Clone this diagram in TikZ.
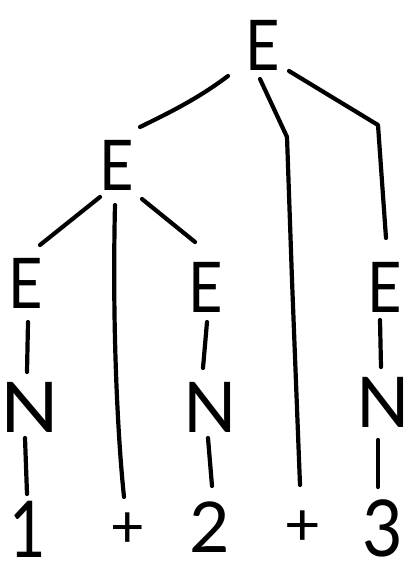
\documentclass[tikz,border=0pt]{standalone}
\usepackage{fontspec}
\newfontfamily\hand{Lato}
\usetikzlibrary{calc}
\tikzset{
  lbl/.style={font=\hand\fontsize{70}{70}\selectfont, inner sep=0pt, outer sep=0pt},
  edge/.style={line width=4.2pt, line cap=round, line join=round, black}
}
\newcommand{\sx}[2]{\scalebox{#1}[1]{#2}}
\begin{document}
\begin{tikzpicture}[x=1pt,y=-1pt]
\useasboundingbox[fill=white] (0,0) rectangle (408,562);
% nodes
\node[lbl] (topE) at (263,45) {\sx{0.85}{E}};
\node[lbl] (midE) at (117,165) {\sx{0.85}{E}};
\node[lbl] (leftE) at (26,283) {\sx{0.85}{E}};
\node[lbl] (cenE) at (206,287) {\sx{0.85}{E}};
\node[lbl] (rightE) at (385,287) {\sx{0.85}{E}};
\node[lbl] (N1) at (30,407) {\sx{1.1}{N}};
\node[lbl] (N2) at (210,407) {\sx{1.0}{N}};
\node[lbl] (N3) at (383,402) {\sx{1.0}{N}};
\node[lbl] (one) at (28,529) {\scalebox{0.9}[1.12]{1}};
\node[lbl] (plusA) at (128,530) {\scalebox{0.85}[0.85]{+}};
\node[lbl] (two) at (210,527) {2};
\node[lbl] (plusB) at (303,528) {\scalebox{0.9}[0.85]{+}};
\node[lbl] (three) at (383,528) {\scalebox{1}[1.12]{3}};
% connectors
\draw[edge] ($(topE)+(-35,31)$) .. controls ($(topE)+(-63,52)$) and ($(midE)+(58,-55)$) .. ($(midE)+(23,-38)$);
\draw[edge] ($(topE)+(-3,34)$) -- ($(topE)+(24,92)$) -- ($(plusB)+(-11,-248)$) -- ($(plusB)+(-3,-43)$);
\draw[edge] ($(topE)+(26,26)$) -- ($(rightE)+(-7,-162)$) -- ($(rightE)+(1,-49)$);
\draw[edge] ($(midE)+(-17,32)$) -- ($(leftE)+(14,-38)$);
\draw[edge] ($(midE)+(-2,40)$) .. controls ($(midE)+(-5,165)$) and ($(plusA)+(-10,-90)$) .. ($(plusA)+(-4,-33)$);
\draw[edge] ($(midE)+(25,34)$) -- ($(cenE)+(-11,-45)$);
\draw[edge] ($(leftE)+(2,39)$) -- ($(N1)+(-3,-35)$);
\draw[edge] ($(N1)+(-5,31)$) -- ($(one)+(-1,-35)$);
\draw[edge] ($(cenE)+(1,35)$) -- ($(N2)+(-7,-39)$);
\draw[edge] ($(N2)+(-2,31)$) -- ($(two)+(2,-41)$);
\draw[edge] ($(rightE)+(-5,33)$) -- ($(N3)+(-2,-35)$);
\draw[edge] ($(N3)+(-5,38)$) -- ($(three)+(-5,-41)$);
\end{tikzpicture}
\end{document}
